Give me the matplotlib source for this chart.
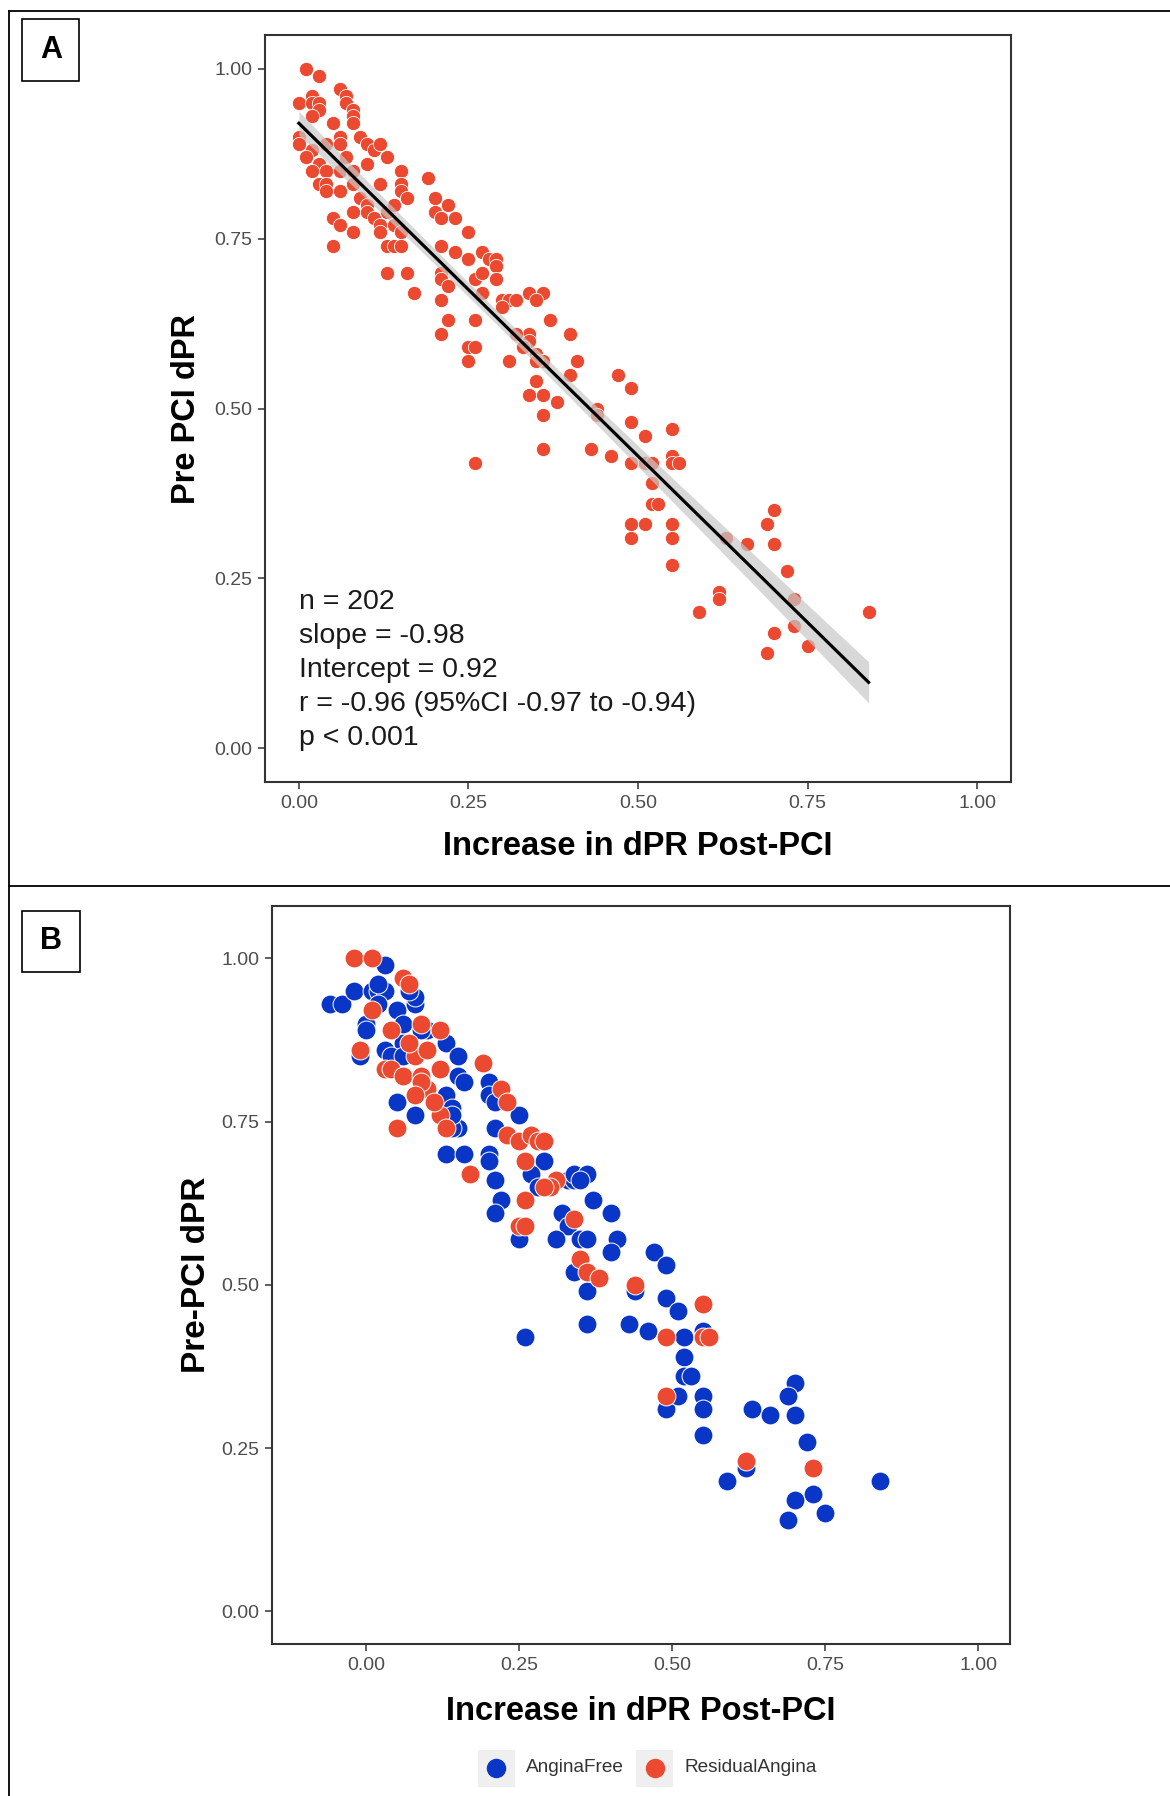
import numpy as np
import matplotlib
matplotlib.use("Agg")
import matplotlib.pyplot as plt
from matplotlib.lines import Line2D
from matplotlib.patches import Rectangle

# ---- panel A: all patients -------------------------------------------------
A_X = [
    0.01, 0.03, 0.00, 0.02, 0.02, 0.03, 0.03, 0.02, 0.06, 0.07, 0.07, 0.08, 0.08, 0.08,
    0.05, 0.00, 0.00, 0.02, 0.01, 0.06, 0.06, 0.04, 0.09, 0.10, 0.11, 0.12, 0.13, 0.10,
    0.03, 0.02, 0.04, 0.06, 0.07, 0.08, 0.03, 0.04, 0.04, 0.06, 0.08, 0.15, 0.15, 0.15,
    0.16, 0.19, 0.12, 0.09, 0.10, 0.08, 0.10, 0.11, 0.12, 0.13, 0.14, 0.05, 0.06, 0.08,
    0.05, 0.12, 0.14, 0.15, 0.13, 0.14, 0.15, 0.20, 0.20, 0.22, 0.21, 0.23, 0.25, 0.21,
    0.23, 0.25, 0.27, 0.28, 0.29, 0.29, 0.21, 0.21, 0.22, 0.26, 0.27, 0.29, 0.13, 0.16,
    0.17, 0.21, 0.27, 0.22, 0.26, 0.30, 0.31, 0.32, 0.34, 0.36, 0.35, 0.37, 0.21, 0.30,
    0.25, 0.26, 0.25, 0.40, 0.34, 0.34, 0.32, 0.33, 0.35, 0.36, 0.35, 0.31, 0.41, 0.40,
    0.47, 0.49, 0.35, 0.34, 0.36, 0.38, 0.36, 0.44, 0.44, 0.49, 0.51, 0.55, 0.36, 0.43,
    0.46, 0.49, 0.51, 0.52, 0.55, 0.55, 0.56, 0.52, 0.52, 0.53, 0.49, 0.51, 0.55, 0.70,
    0.49, 0.55, 0.55, 0.26, 0.69, 0.63, 0.66, 0.70, 0.72, 0.62, 0.62, 0.73, 0.84, 0.70,
    0.73, 0.75, 0.69, 0.59,
]
A_Y = [
    1.00, 0.99, 0.95, 0.96, 0.95, 0.95, 0.94, 0.93, 0.97, 0.96, 0.95, 0.94, 0.93, 0.92,
    0.92, 0.90, 0.89, 0.88, 0.87, 0.90, 0.89, 0.89, 0.90, 0.89, 0.88, 0.89, 0.87, 0.86,
    0.86, 0.85, 0.85, 0.85, 0.87, 0.85, 0.83, 0.83, 0.82, 0.82, 0.83, 0.85, 0.83, 0.82,
    0.81, 0.84, 0.83, 0.81, 0.80, 0.79, 0.79, 0.78, 0.77, 0.79, 0.80, 0.78, 0.77, 0.76,
    0.74, 0.76, 0.77, 0.76, 0.74, 0.74, 0.74, 0.81, 0.79, 0.80, 0.78, 0.78, 0.76, 0.74,
    0.73, 0.72, 0.73, 0.72, 0.72, 0.71, 0.70, 0.69, 0.68, 0.69, 0.70, 0.69, 0.70, 0.70,
    0.67, 0.66, 0.67, 0.63, 0.63, 0.66, 0.66, 0.66, 0.67, 0.67, 0.66, 0.63, 0.61, 0.65,
    0.59, 0.59, 0.57, 0.61, 0.61, 0.60, 0.61, 0.59, 0.58, 0.57, 0.57, 0.57, 0.57, 0.55,
    0.55, 0.53, 0.54, 0.52, 0.52, 0.51, 0.49, 0.50, 0.49, 0.48, 0.46, 0.47, 0.44, 0.44,
    0.43, 0.42, 0.42, 0.42, 0.43, 0.42, 0.42, 0.39, 0.36, 0.36, 0.33, 0.33, 0.33, 0.35,
    0.31, 0.31, 0.27, 0.42, 0.33, 0.31, 0.30, 0.30, 0.26, 0.23, 0.22, 0.22, 0.20, 0.17,
    0.18, 0.15, 0.14, 0.20,
]
A_N = 202
A_SLOPE = -0.98
A_INTERCEPT = 0.92
A_STATS = [
    "n = 202",
    "slope = -0.98",
    "Intercept = 0.92",
    "r = -0.96 (95%CI -0.97 to -0.94)",
    "p < 0.001",
]

# ---- panel B: by angina status ---------------------------------------------
FREE_X = [
    0.03, -0.06, -0.04, -0.02, 0.01, 0.02, 0.03, 0.02, 0.02, 0.05, 0.08, 0.08, 0.07, 0.00,
    0.00, 0.10, 0.06, 0.03, -0.01, 0.04, 0.06, 0.13, 0.15, 0.15, 0.16, 0.13, 0.14, 0.05,
    0.08, 0.15, 0.14, 0.13, 0.16, 0.20, 0.20, 0.21, 0.25, 0.21, 0.20, 0.20, 0.29, 0.27,
    0.21, 0.22, 0.33, 0.34, 0.28, 0.34, 0.36, 0.35, 0.37, 0.40, 0.32, 0.33, 0.25, 0.31,
    0.35, 0.36, 0.41, 0.40, 0.34, 0.36, 0.47, 0.49, 0.44, 0.49, 0.51, 0.36, 0.43, 0.46,
    0.52, 0.55, 0.52, 0.52, 0.53, 0.26, 0.21, 0.70, 0.69, 0.66, 0.70, 0.72, 0.84, 0.73,
    0.70, 0.75, 0.69, 0.63, 0.59, 0.62, 0.49, 0.51, 0.55, 0.55, 0.55, 0.06, 0.09, 0.14,
]
FREE_Y = [
    0.99, 0.93, 0.93, 0.95, 0.95, 0.95, 0.95, 0.96, 0.93, 0.92, 0.93, 0.94, 0.95, 0.90,
    0.89, 0.89, 0.87, 0.86, 0.85, 0.85, 0.85, 0.87, 0.85, 0.82, 0.81, 0.79, 0.77, 0.78,
    0.76, 0.74, 0.74, 0.70, 0.70, 0.81, 0.79, 0.78, 0.76, 0.74, 0.70, 0.69, 0.69, 0.67,
    0.66, 0.63, 0.66, 0.66, 0.65, 0.67, 0.67, 0.66, 0.63, 0.61, 0.61, 0.59, 0.57, 0.57,
    0.57, 0.57, 0.57, 0.55, 0.52, 0.49, 0.55, 0.53, 0.49, 0.48, 0.46, 0.44, 0.44, 0.43,
    0.42, 0.43, 0.39, 0.36, 0.36, 0.42, 0.61, 0.35, 0.33, 0.30, 0.30, 0.26, 0.20, 0.18,
    0.17, 0.15, 0.14, 0.31, 0.20, 0.22, 0.31, 0.33, 0.33, 0.31, 0.27, 0.90, 0.89, 0.76,
]
RESID_X = [
    -0.02, 0.01, 0.06, 0.07, 0.01, 0.04, 0.09, 0.12, -0.01, 0.08, 0.10, 0.03, 0.04, 0.06,
    0.09, 0.12, 0.10, 0.09, 0.08, 0.05, 0.12, 0.17, 0.19, 0.22, 0.23, 0.23, 0.25, 0.27,
    0.28, 0.29, 0.26, 0.26, 0.31, 0.30, 0.29, 0.34, 0.25, 0.26, 0.35, 0.36, 0.38, 0.44,
    0.55, 0.49, 0.55, 0.56, 0.49, 0.62, 0.73, 0.07, 0.11, 0.13,
]
RESID_Y = [
    1.00, 1.00, 0.97, 0.96, 0.92, 0.89, 0.90, 0.89, 0.86, 0.85, 0.86, 0.83, 0.83, 0.82,
    0.82, 0.83, 0.80, 0.81, 0.79, 0.74, 0.76, 0.67, 0.84, 0.80, 0.78, 0.73, 0.72, 0.73,
    0.72, 0.72, 0.69, 0.63, 0.66, 0.65, 0.65, 0.60, 0.59, 0.59, 0.54, 0.52, 0.51, 0.50,
    0.47, 0.42, 0.42, 0.42, 0.33, 0.23, 0.22, 0.87, 0.78, 0.74,
]
GROUP_LABELS = ["AnginaFree", "ResidualAngina"]

TICKS = [0.0, 0.25, 0.5, 0.75, 1.0]
TICK_LABELS = ["0.00", "0.25", "0.50", "0.75", "1.00"]

RED = "#EC4A30"
BLUE = "#0A36C8"
W, H = 1170, 1796


def fx(px):
    return px / W


def fy(py):
    return 1 - py / H


def style_axes(ax, xlim, ylim):
    ax.set_xlim(*xlim)
    ax.set_ylim(*ylim)
    ax.set_xticks(TICKS, TICK_LABELS)
    ax.set_yticks(TICKS, TICK_LABELS)
    ax.tick_params(colors="#333333", labelcolor="#4D4D4D", labelsize=14, length=5, width=1.1, pad=4)
    for side in ax.spines.values():
        side.set_color("#333333")
        side.set_linewidth(1.5)


def panel_tag(fig, letter, box):
    x0, y0, x1, y1 = box
    fig.add_artist(Rectangle((fx(x0), fy(y1)), fx(x1) - fx(x0), fy(y0) - fy(y1),
                             transform=fig.transFigure, fill=False, ec="black", lw=1.2))
    fig.text(fx((x0 + x1) / 2), fy((y0 + y1) / 2), letter, ha="center", va="center",
             fontsize=22, fontweight="bold",
             family=["Liberation Sans Narrow", "Liberation Sans", "DejaVu Sans"])


def main():
    plt.rcParams["font.family"] = ["Liberation Sans", "DejaVu Sans"]
    fig = plt.figure(figsize=(W / 100, H / 100), dpi=100)

    # outer frame and divider
    for xs, ys in [((9, W), (10.5, 10.5)), ((9, 9), (10.5, H)), ((9, W), (885.5, 885.5))]:
        fig.add_artist(Line2D([fx(x) for x in xs], [fy(y) for y in ys],
                              transform=fig.transFigure, color="black", lw=1.3))
    panel_tag(fig, "A", (22.4, 18.7, 79.1, 80.6))
    panel_tag(fig, "B", (22.4, 911, 79.9, 971.7))

    # ---- panel A
    ax = fig.add_axes([fx(265), fy(782), fx(1011) - fx(265), fy(35) - fy(782)])
    x = np.array(A_X)
    y = np.array(A_Y)
    ax.scatter(x, y, s=105, color=RED, edgecolor="white", linewidth=0.6, zorder=2)

    xs = np.linspace(x.min(), x.max(), 100)
    fit = A_INTERCEPT + A_SLOPE * xs
    resid = y - (A_INTERCEPT + A_SLOPE * x)
    s = np.sqrt(np.sum(resid ** 2) / (len(x) - 2))
    se = s * np.sqrt(1 / len(x) + (xs - x.mean()) ** 2 / np.sum((x - x.mean()) ** 2))
    ax.fill_between(xs, fit - 1.97 * se, fit + 1.97 * se, color="#C8C8C8", alpha=0.7, lw=0, zorder=3)
    ax.plot(xs, fit, color="black", lw=2.3, zorder=4)

    for i, line in enumerate(A_STATS):
        ax.text(0.0, 0.215 - i * 0.05, line, ha="left", va="center", fontsize=20.5, color="#1A1A1A")

    style_axes(ax, (-0.05, 1.05), (-0.05, 1.05))
    ax.set_xlabel("Increase in dPR Post-PCI", fontsize=23.5, fontweight="bold", labelpad=14)
    ax.set_ylabel("Pre PCI dPR", fontsize=23.5, fontweight="bold", labelpad=9)

    # ---- panel B
    bx = fig.add_axes([fx(272), fy(1644), fx(1010) - fx(272), fy(906) - fy(1644)])
    bx.scatter(FREE_X, FREE_Y, s=185, color=BLUE, edgecolor="white", linewidth=0.7, zorder=2)
    bx.scatter(RESID_X, RESID_Y, s=185, color=RED, edgecolor="white", linewidth=0.7, zorder=3)
    style_axes(bx, (-0.154, 1.052), (-0.05, 1.08))
    bx.set_xlabel("Increase in dPR Post-PCI", fontsize=23.5, fontweight="bold", labelpad=16)
    bx.set_ylabel("Pre-PCI dPR", fontsize=24, fontweight="bold", labelpad=7)

    # legend with grey key boxes
    for (x0, tx), col, lab in zip([(477.7, 526), (636, 685)], [BLUE, RED], GROUP_LABELS):
        fig.add_artist(Rectangle((fx(x0), fy(1787)), fx(37), 37 / H,
                                 transform=fig.transFigure, color="#EFEFEF", lw=0))
        fig.add_artist(Line2D([fx(x0 + 18.5)], [fy(1768)], marker="o", ms=13, color=col,
                              mec=col, transform=fig.transFigure))
        fig.text(fx(tx), fy(1768), lab, ha="left", va="center", fontsize=13.7, color="#333333")

    fig.savefig("out.png", dpi=100)
    plt.close(fig)


if __name__ == "__main__":
    main()
